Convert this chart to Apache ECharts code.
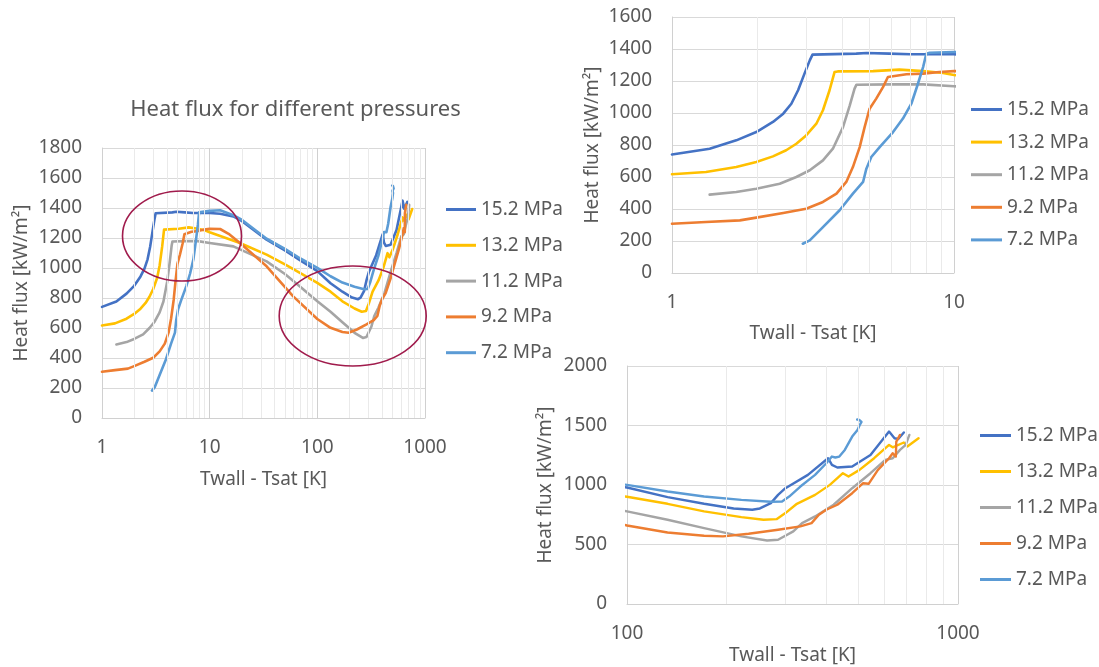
<!DOCTYPE html>
<html><head><meta charset="utf-8">
<script src="https://cdn.jsdelivr.net/npm/echarts@6/dist/echarts.min.js"></script>
<style>html,body{margin:0;padding:0;background:#fff}#c{width:1099px;height:667px}</style>
</head><body><div id="c"></div>
<script>
// ---------- data (x = Twall - Tsat [K], y = heat flux [kW/m2]) ----------
const seriesNames = ['15.2 MPa', '13.2 MPa', '11.2 MPa', '9.2 MPa', '7.2 MPa'];
const seriesColors = ['#4472C4', '#FFC000', '#A5A5A5', '#ED7D31', '#5B9BD5'];

const p152 = [[1,741],[1.36,777],[1.69,829],[1.99,881],[2.28,944],[2.48,996],[2.65,1058],[2.8,1142],[2.95,1246],[3.08,1329],[3.15,1365],[4.5,1371],[4.9,1375],[5.9,1371],[7,1367],[10,1367],[12.5,1362],[16.6,1344],[20,1312],[33.8,1189],[50,1118],[68.9,1052],[100,979],[132.6,898],[171,842],[210,803],[239,792],[252,803],[272,848],[286,917],[301,973],[352,1085],[405,1225],[416,1169],[432,1147],[479,1155],[544,1253],[619,1449],[643,1393],[660,1387],[686,1441]];
const p132 = [[1,617],[1.32,631],[1.69,662],[1.99,694],[2.28,729],[2.54,767],[2.76,808],[2.99,860],[3.25,933],[3.43,1017],[3.62,1142],[3.77,1256],[3.87,1260],[5.16,1262],[6.4,1271],[7.77,1262],[9.14,1250],[10,1238],[19.1,1167],[33.8,1089],[50,1024],[68.9,967],[100,901],[132.6,842],[171,778],[221.6,730],[258.5,708],[283,713],[301,764],[326,842],[370,917],[410,1001],[449,1099],[467,1071],[504,1127],[558,1225],[619,1337],[635,1317],[686,1357],[703,1323],[760,1393]];
const p112 = [[1.36,490],[1.69,506],[1.99,527],[2.41,558],[2.76,600],[3.08,642],[3.43,704],[3.72,777],[4.04,912],[4.27,1048],[4.44,1152],[4.51,1177],[5.91,1179],[7.77,1179],[10,1167],[16.6,1144],[33.8,1044],[50,960],[68.9,877],[100,778],[132.6,708],[171,638],[221.6,568],[265,534],[286,540],[318,610],[338,680],[370,736],[421,834],[479,973],[544,1099],[603,1211],[635,1225],[668,1295],[695,1337],[713,1421]];
const p92 = [[1,308],[1.32,319],[1.74,329],[1.99,346],[2.48,375],[2.99,402],[3.43,444],[3.83,496],[4.15,569],[4.38,662],[4.63,787],[4.82,912],[5.02,1027],[5.3,1090],[5.6,1162],[5.83,1225],[6.78,1242],[7.77,1246],[8.89,1256],[10,1262],[12.5,1260],[15,1228],[19.1,1167],[33.8,1011],[59.7,811],[100,660],[132.6,601],[171,573],[195,568],[233,590],[286,624],[334,652],[361,680],[380,750],[400,792],[432,834],[479,931],[517,1015],[537,1010],[573,1127],[619,1225],[635,1267],[649,1239],[651,1365],[668,1421]];
const p72 = [[2.91,183],[3.08,204],[3.43,287],[3.93,392],[4.38,496],[4.76,569],[4.89,652],[5.09,725],[5.45,787],[6.08,881],[6.59,965],[7.06,1058],[7.45,1183],[7.77,1287],[7.98,1371],[8.2,1377],[10,1381],[12.5,1385],[16.6,1352],[20,1320],[33.8,1195],[50,1128],[68.9,1065],[100,1001],[132.6,945],[171,903],[221.6,875],[272,859],[294,861],[309,903],[334,987],[370,1085],[400,1183],[416,1239],[426,1231],[438,1239],[455,1295],[479,1407],[497,1463],[504,1500],[499,1515],[511,1530],[503,1547],[496,1550]];

const mainMinorTicks = [2,3,4,5,6,7,8,9,20,30,40,50,60,70,80,90,200,300,400,500,600,700,800,900];
const topMinorTicks = [2,3,4,5,6,7,8,9];
const bottomMinorTicks = [200,300,400,500,600,700,800,900];

const TXT = '#595959';
const FONT = '"Noto Sans", "Open Sans", sans-serif';

const gridDefs = [
  { left: 102, top: 148, width: 323, height: 270, xMin: 1, xMax: 1000, yMax: 1800, yInt: 200, lw: 2.6, minors: mainMinorTicks, yGap: 71, xGap: 52 },
  { left: 672, top: 17, width: 282, height: 256, xMin: 1, xMax: 10, yMax: 1600, yInt: 200, lw: 2.6, minors: topMinorTicks, yGap: 70, xGap: 51 },
  { left: 627, top: 366, width: 331, height: 238, xMin: 100, xMax: 1000, yMax: 2000, yInt: 500, lw: 2.4, minors: bottomMinorTicks, yGap: 72, xGap: 42 }
];
const dataSets = [p152, p132, p112, p92, p72];
const plain = v => String(v);

const grid = [], xAxis = [], yAxis = [], series = [];
gridDefs.forEach((g, gi) => {
  grid.push({ left: g.left, top: g.top, width: g.width, height: g.height, containLabel: false });
  xAxis.push({
    type: 'log', logBase: 10, gridIndex: gi, min: g.xMin, max: g.xMax,
    name: 'Twall - Tsat [K]', nameLocation: 'middle', nameGap: g.xGap,
    nameTextStyle: { color: TXT, fontSize: 19, fontFamily: FONT },
    axisLine: { show: true, lineStyle: { color: '#D0D0D0', width: 1 } },
    axisTick: { show: false },
    axisLabel: { color: TXT, fontSize: 19, fontFamily: FONT, margin: 20, formatter: plain },
    splitLine: { show: true, lineStyle: { color: '#D0D0D0', width: 1 } },
    minorTick: { show: false }, minorSplitLine: { show: false }
  });
  yAxis.push({
    type: 'value', gridIndex: gi, min: 0, max: g.yMax, interval: g.yInt,
    name: 'Heat flux [kW/m²]', nameLocation: 'middle', nameGap: g.yGap,
    nameTextStyle: { color: TXT, fontSize: 19, fontFamily: FONT },
    axisLine: { show: true, lineStyle: { color: '#D0D0D0', width: 1 } },
    axisTick: { show: false },
    axisLabel: { color: TXT, fontSize: 19, fontFamily: FONT, margin: 20, formatter: plain },
    splitLine: { show: true, lineStyle: { color: '#D9D9D9', width: 1 } }
  });
  // minor vertical gridlines at 2..9 of each decade
  series.push({
    type: 'line', xAxisIndex: gi, yAxisIndex: gi, data: [], silent: true, z: 1,
    markLine: {
      silent: true, symbol: ['none', 'none'], label: { show: false }, animation: false,
      lineStyle: { color: '#EAEAEA', width: 1, type: 'solid' },
      emphasis: { disabled: true },
      data: g.minors.map(v => ({ xAxis: v }))
    }
  });
  dataSets.forEach((d, i) => {
    series.push({
      type: 'line', name: seriesNames[i], xAxisIndex: gi, yAxisIndex: gi,
      data: d, showSymbol: false, symbol: 'none', clip: true, z: 3,
      color: seriesColors[i],
      lineStyle: { color: seriesColors[i], width: g.lw, cap: 'round', join: 'round' }
    });
  });
});

const legendCommon = {
  orient: 'vertical', icon: 'rect', itemHeight: 3, selectedMode: false,
  data: seriesNames,
  textStyle: { color: TXT, fontSize: 19, fontFamily: FONT, lineHeight: 19 }
};

const option = {
  animation: false,
  backgroundColor: '#ffffff',
  title: {
    text: 'Heat flux for different pressures', left: 295.5, top: 99, textAlign: 'center', padding: 0,
    textStyle: { color: TXT, fontSize: 22, fontWeight: 'normal', fontFamily: FONT }
  },
  grid, xAxis, yAxis, series,
  legend: [
    Object.assign({}, legendCommon, { left: 441, top: 195, itemWidth: 30, itemGap: 16.8 }),
    Object.assign({}, legendCommon, { left: 966, top: 95, itemWidth: 31, itemGap: 13.6 }),
    Object.assign({}, legendCommon, { left: 975, top: 421, itemWidth: 31, itemGap: 17 })
  ],
  graphic: [
    { type: 'ellipse', z: 100, silent: true, shape: { cx: 182, cy: 236, rx: 59.5, ry: 45 },
      style: { fill: 'none', stroke: '#A01B4C', lineWidth: 1.6 } },
    { type: 'ellipse', z: 100, silent: true, shape: { cx: 352.7, cy: 316, rx: 73.5, ry: 50 },
      style: { fill: 'none', stroke: '#A01B4C', lineWidth: 1.6 } }
  ]
};

const chart = echarts.init(document.getElementById('c'), null, { renderer: 'canvas' });
chart.setOption(option);
</script>
</body></html>
